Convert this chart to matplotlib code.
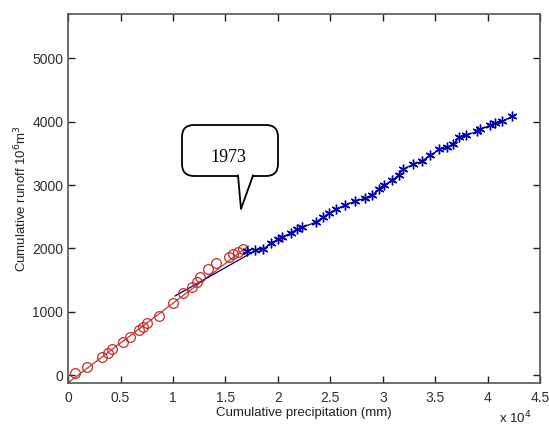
import matplotlib
matplotlib.use("Agg")
import matplotlib.pyplot as plt
from matplotlib.patches import FancyBboxPatch, Polygon
from matplotlib.lines import Line2D
from matplotlib.transforms import IdentityTransform
from matplotlib.ticker import FuncFormatter

# Period 1 (red circles), cumulative precipitation (mm) and runoff
p1_x = [700, 1800, 3200, 3800, 4200, 5200, 5900, 6800, 7100, 7500, 8700,
        10000, 11000, 11800, 12300, 12600, 13300, 14100, 15300, 15700, 16200, 16700]
p1_y = [32, 126, 284, 347, 410, 521, 599, 710, 757, 820, 931,
        1136, 1293, 1388, 1467, 1546, 1672, 1767, 1861, 1909, 1940, 1987]

# Period 2 (blue asterisks)
p2_x = [17100, 17800, 18600, 19300, 20000, 20400, 21200, 21800, 22300, 23600,
        24300, 24900, 25500, 26400, 27300, 28300, 29000, 29600, 30100, 30900,
        31500, 31900, 32900, 33700, 34500, 35400, 36100, 36700, 37300, 37900,
        39000, 39300, 40200, 40700, 41400, 42300]
p2_y = [1956, 1972, 1987, 2082, 2145, 2177, 2240, 2303, 2334, 2413,
        2492, 2555, 2618, 2681, 2744, 2792, 2839, 2934, 2997, 3076,
        3155, 3249, 3328, 3375, 3470, 3565, 3596, 3644, 3754, 3785,
        3849, 3880, 3943, 3975, 4006, 4085]

# Fitted lines
fit1_x = [0, 17200]
fit1_y = [-120, 2040]
fit2_x = [10200, 17300] + p2_x[1:]
fit2_y = [1250, 1914] + p2_y[1:]

xticks = [0, 5000, 10000, 15000, 20000, 25000, 30000, 35000, 40000, 45000]
yticks = [0, 1000, 2000, 3000, 4000, 5000]

plt.rcParams['font.family'] = ['Liberation Sans', 'DejaVu Sans']

fig = plt.figure(figsize=(5.49, 4.28), dpi=100)
ax = fig.add_axes([0.124, 0.105, 0.860, 0.862])

ax.plot(fit1_x, fit1_y, color='#c0392b', lw=0.9)
ax.plot(fit2_x, fit2_y, color='#000060', lw=0.9)
ax.plot(p1_x, p1_y, linestyle='none', marker='o', markersize=7,
        markerfacecolor='none', markeredgecolor='#c0302a', markeredgewidth=0.9)
ax.plot(p2_x, p2_y, linestyle='none', marker=(6, 2, 0), markersize=7,
        color='#0000b0', markeredgewidth=1.0)

ax.set_xlim(0, 45000)
ax.set_ylim(-125, 5700)
ax.set_xticks(xticks)
ax.set_yticks(yticks)
ax.xaxis.set_major_formatter(FuncFormatter(lambda v, p: f"{v/1e4:g}"))
ax.tick_params(direction='in', length=5, width=1, top=True, right=True,
               labelsize=10, color='#202020', labelcolor='#303030')
ax.tick_params(axis='x', pad=6)
for s in ax.spines.values():
    s.set_color('#555555')
    s.set_linewidth(1.2)

ax.set_xlabel('Cumulative precipitation (mm)', fontsize=9.5, labelpad=1, color='#202020')
ax.set_ylabel('Cumulative runoff 10$^6$m$^3$', fontsize=9.5, labelpad=2, color='#202020')
fig.text(0.968, 0.005, 'x 10$^4$', fontsize=9.5, ha='right', va='bottom', color='#202020')

# Callout "1973"
H = 428
tr = IdentityTransform()
box = FancyBboxPatch((182, H - 176), 96, 51, boxstyle="round,pad=0,rounding_size=12",
                     transform=tr, facecolor='white', edgecolor='black', lw=1.3, zorder=5)
fig.add_artist(box)
tail = Polygon([(238, H - 174), (241, H - 209), (253, H - 174)], closed=True,
               transform=tr, facecolor='white', edgecolor='none', zorder=6)
fig.add_artist(tail)
fig.add_artist(Line2D([238, 241, 253], [H - 175.5, H - 209, H - 175.5], transform=tr,
                      color='black', lw=1.3, zorder=7))
fig.text(228 / 549, 1 - 157 / H, '1973', fontsize=13, family='Liberation Serif',
         ha='center', va='center', zorder=8)

fig.savefig('out.png', dpi=100)
